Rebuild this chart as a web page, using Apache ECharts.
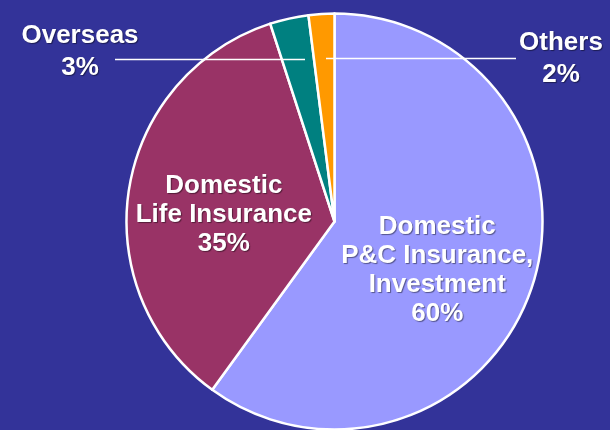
<!DOCTYPE html>
<html>
<head>
<meta charset="utf-8">
<style>
  html, body { margin: 0; padding: 0; background: #333399; }
  #chart { width: 610px; height: 430px; }
</style>
<script src="https://cdn.jsdelivr.net/npm/echarts@6/dist/echarts.min.js"></script>
</head>
<body>
<div id="chart"></div>
<script>
// Business segment shares (percent)
const segments = ['Domestic\nP&C Insurance,\nInvestment', 'Domestic\nLife Insurance', 'Overseas', 'Others'];
const shares = [60, 35, 3, 2];
const sliceColors = ['#9999FF', '#993366', '#008080', '#FF9900'];

// Label placement: inner labels are nudged from the slice middle,
// outer labels sit at fixed spots with a horizontal leader line.
const labelSpots = [
  { dx: 1, dy: 16 },
  { dx: -5, dy: 10 },
  { x: 80, y: 52, lineFrom: 305, lineTo: 115, lineY: 59.5 },
  { x: 561, y: 59, lineFrom: 326, lineTo: 516, lineY: 58.5 }
];

const chart = echarts.init(document.getElementById('chart'), null, { renderer: 'canvas' });

const labelFont = {
  color: '#FFFFFF',
  fontFamily: '"Liberation Sans", Arial, sans-serif',
  fontWeight: 'bold',
  fontSize: 26,
  textShadowColor: 'rgba(0,0,0,0.45)',
  textShadowBlur: 1,
  textShadowOffsetX: 1,
  textShadowOffsetY: 1
};

const isOuter = i => labelSpots[i].lineFrom !== undefined;
const pieGeom = { center: [334.5, 221.5], radius: 208, startAngle: 90, clockwise: true };

chart.setOption({
  backgroundColor: '#333399',
  animation: false,
  series: [
    // Filled slices with the in-slice labels
    Object.assign({
      type: 'pie',
      z: 2,
      avoidLabelOverlap: false,
      itemStyle: { borderColor: '#FFFFFF', borderWidth: 2.5 },
      emphasis: { disabled: true },
      label: Object.assign({
        position: 'inside',
        lineHeight: 29,
        formatter: p => isOuter(p.dataIndex) ? '' : p.name + '\n' + p.value + '%'
      }, labelFont),
      labelLine: { show: false },
      labelLayout: p => {
        const s = labelSpots[p.dataIndex];
        return isOuter(p.dataIndex) ? {} : { dx: s.dx, dy: s.dy };
      },
      data: segments.map((name, i) => ({ name: name, value: shares[i], itemStyle: { color: sliceColors[i] } }))
    }, pieGeom),
    // Transparent overlay carrying the outside labels so their leader lines sit above the slices
    Object.assign({
      type: 'pie',
      z: 3,
      silent: true,
      avoidLabelOverlap: false,
      itemStyle: { color: 'rgba(0,0,0,0)', borderWidth: 0 },
      emphasis: { disabled: true },
      label: Object.assign({
        position: 'outside',
        lineHeight: 32,
        alignTo: 'none',
        formatter: p => isOuter(p.dataIndex) ? p.name + '\n' + p.value + '%' : ''
      }, labelFont),
      labelLine: { show: true, length: 10, length2: 10, lineStyle: { color: '#FFFFFF', width: 1.5 } },
      labelLayout: p => {
        const s = labelSpots[p.dataIndex];
        if (!isOuter(p.dataIndex)) return {};
        return {
          x: s.x, y: s.y, align: 'center', verticalAlign: 'middle',
          labelLinePoints: [[s.lineFrom, s.lineY], [s.lineFrom, s.lineY], [s.lineTo, s.lineY]]
        };
      },
      data: segments.map((name, i) => ({
        name: name,
        value: shares[i],
        label: { show: isOuter(i) },
        labelLine: { show: isOuter(i) }
      }))
    }, pieGeom)
  ]
});
</script>
</body>
</html>
